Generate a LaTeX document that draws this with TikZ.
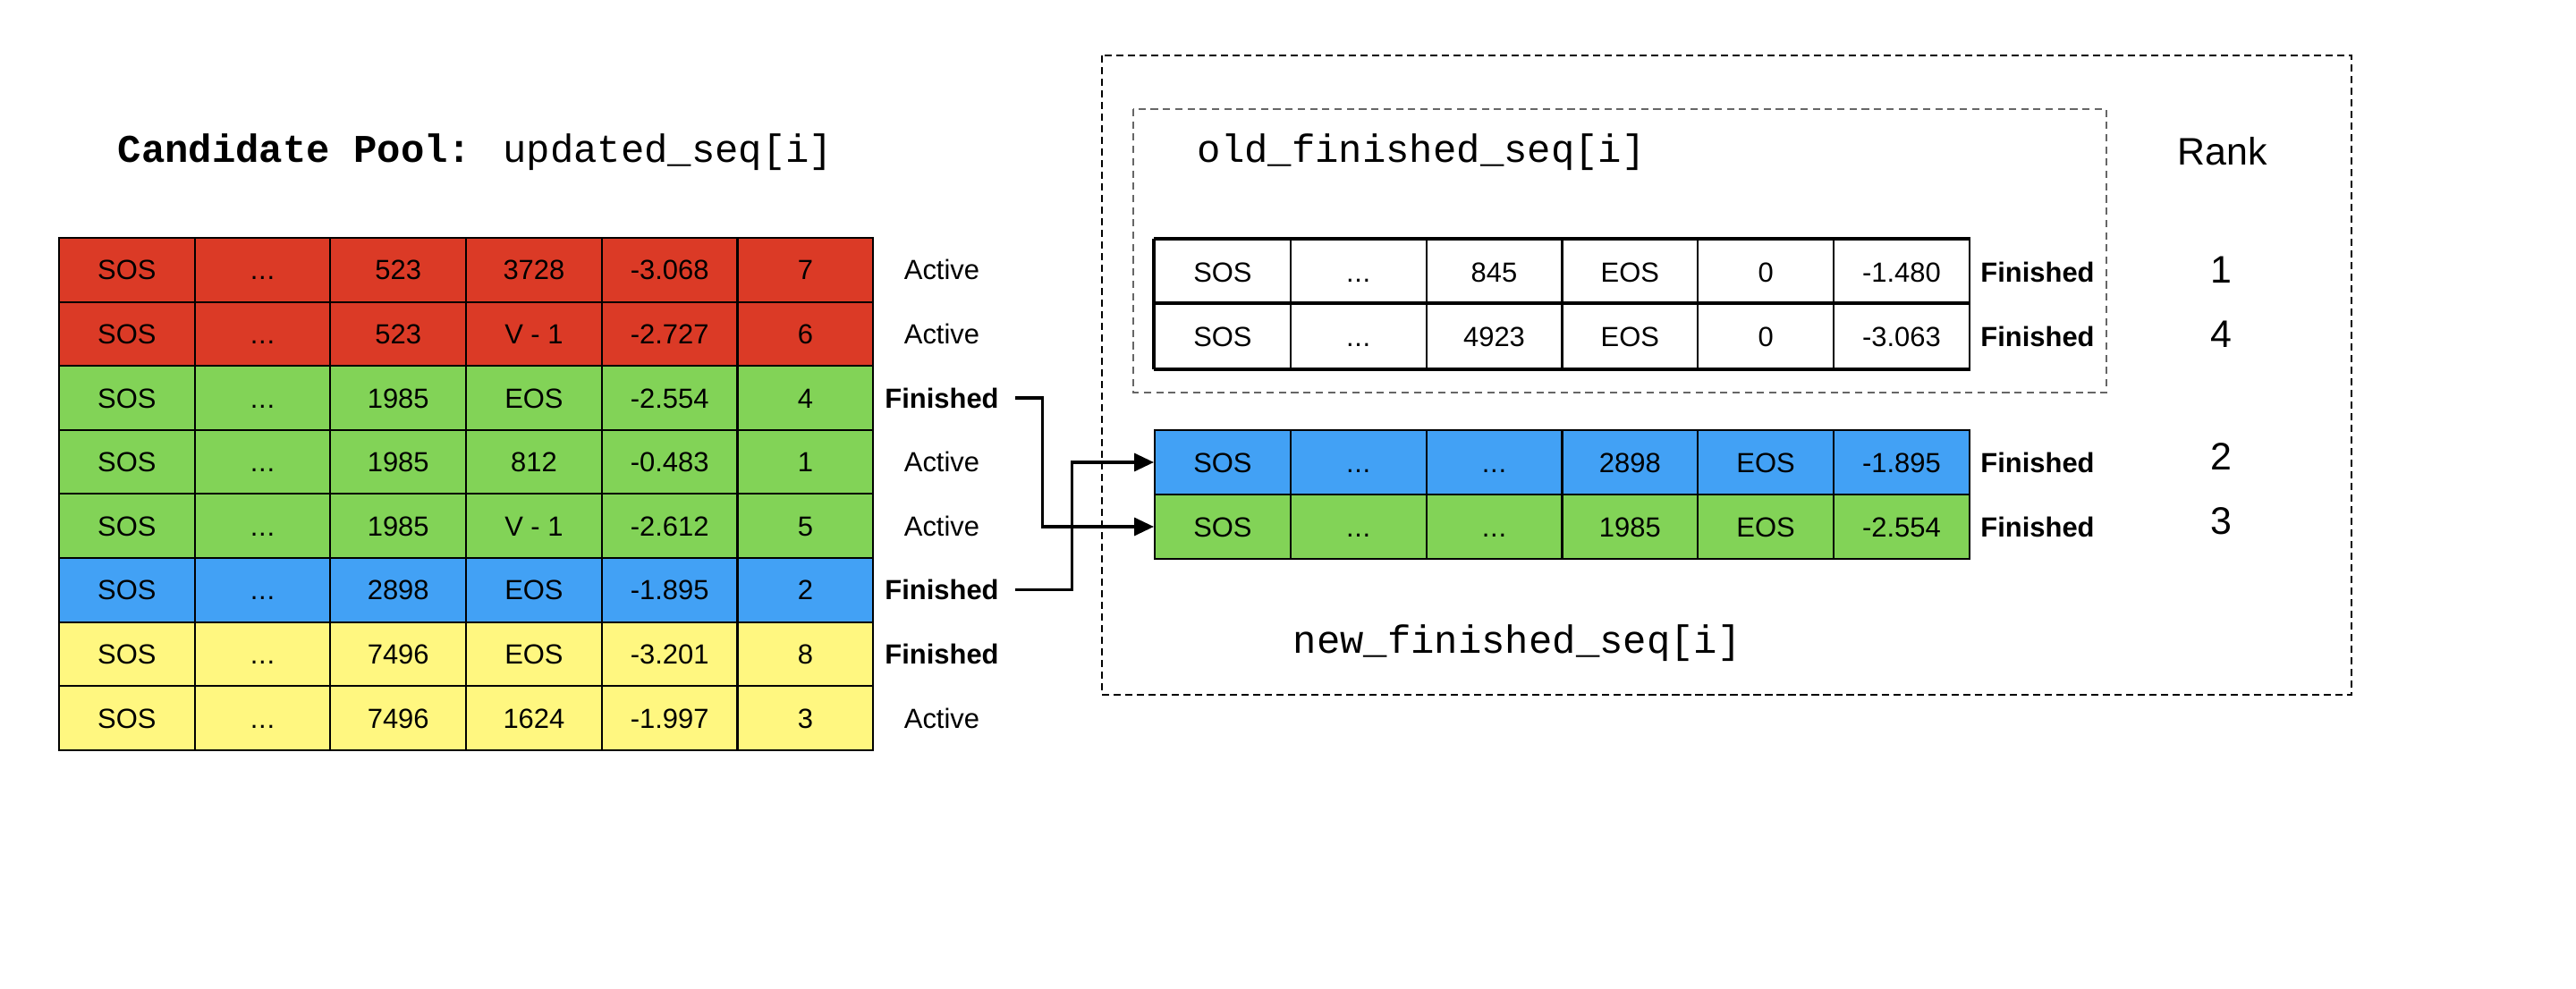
\documentclass[tikz,border=0pt]{standalone}
\usepackage{fontspec}
\setmainfont{Liberation Sans}
\newfontfamily\codefont{Liberation Mono}
\usetikzlibrary{arrows.meta}

\definecolor{poolred}{RGB}{219,58,38}
\definecolor{poolgreen}{RGB}{130,211,87}
\definecolor{poolblue}{RGB}{66,161,245}
\definecolor{poolyellow}{RGB}{255,247,128}

\newcommand{\cellfont}{\fontsize{8.8pt}{10pt}\selectfont}
\newcommand{\rankfont}{\fontsize{12.2pt}{14pt}\selectfont}
\newcommand{\seqfont}{\fontsize{12.5pt}{14pt}\selectfont\codefont}
\newcommand{\skipped}{.\kern0.2pt.\kern0.2pt.}

\tikzset{
  cell/.style={draw,line width=0.6pt,minimum width=1.517cm,minimum height=0.716cm,
    inner sep=0pt,text height=6.3pt,text depth=0pt,font=\cellfont},
  status/.style={inner sep=0pt,text height=6.3pt,text depth=0pt,font=\cellfont},
  link/.style={line width=0.95pt,-{Triangle[length=0.22cm,width=0.2cm]}},
  outerbox/.style={line width=0.4pt,dash pattern=on 2.3pt off 1.4pt},
  innerbox/.style={line width=0.4pt,gray!80!black,dash pattern=on 2.3pt off 1.6pt},
}

\begin{document}
\begin{tikzpicture}[line join=miter]
  \useasboundingbox (0,0) rectangle (28.8,-11.06);
  \node[anchor=base west,inner sep=0pt,font=\seqfont] (pool) at (1.31,-1.82)
    {\textbf{Candidate Pool:} updated\_seq[i]};
  % candidate pool rows
  \foreach \r/\fillc/\tok/\nxt/\score/\rk/\st in {
      0/poolred/523/3728/-3.068/7/Active,
      1/poolred/523/V - 1/-2.727/6/Active,
      2/poolgreen/1985/EOS/-2.554/4/\textbf{Finished},
      3/poolgreen/1985/812/-0.483/1/Active,
      4/poolgreen/1985/V - 1/-2.612/5/Active,
      5/poolblue/2898/EOS/-1.895/2/\textbf{Finished},
      6/poolyellow/7496/EOS/-3.201/8/\textbf{Finished},
      7/poolyellow/7496/1624/-1.997/3/Active}{
    \foreach \c/\txt in {0/SOS,1/\skipped,2/\tok,3/\nxt,4/\score,5/\rk}
      \node[cell,fill=\fillc] (p\r-\c) at ({1.4185+1.517*\c},{-3.018-0.716*\r}) {\txt};
    \node[status] (s\r) at (10.53,{-3.018-0.716*\r}) {\st};
  }
  % old finished
  \draw[outerbox] (12.32,-0.62) rectangle (26.29,-7.77);
  \draw[innerbox] (12.67,-1.22) rectangle (23.55,-4.39);
  \node[anchor=base west,inner sep=0pt,font=\seqfont] (old) at (13.38,-1.82)
    {old\_finished\_seq[i]};
  \node[anchor=base,inner sep=0pt,font=\rankfont] (rank) at (24.85,-1.85) {Rank};
  \foreach \r/\y/\tok/\score/\rk in {0/-3.04/845/-1.480/1,1/-3.76/4923/-3.063/4}{
    \foreach \c/\txt in {0/SOS,1/\skipped,2/\tok,3/EOS,4/0,5/\score}
      \node[cell] (o\r-\c) at ({13.669+1.518*\c},\y) {\txt};
    \node[status,font=\cellfont\bfseries] (of\r) at (22.78,\y) {Finished};
    \node[inner sep=0pt,font=\rankfont] (ork\r) at (24.83,\y+0.02) {\rk};
  }
  \draw[line width=1.3pt] (o0-0.north west) -- (o0-5.north east)
    (o1-0.north west) -- (o1-5.north east)
    (o1-0.south west) -- (o1-5.south east)
    (o0-0.north west) -- (o1-0.south west);
  % new finished
  \foreach \r/\y/\fillc/\tok/\score/\rk in {0/-5.17/poolblue/2898/-1.895/2,
      1/-5.89/poolgreen/1985/-2.554/3}{
    \foreach \c/\txt in {0/SOS,1/\skipped,2/\skipped,3/\tok,4/EOS,5/\score}
      \node[cell,fill=\fillc] (n\r-\c) at ({13.669+1.518*\c},\y) {\txt};
    \node[status,font=\cellfont\bfseries] (nf\r) at (22.78,\y) {Finished};
    \node[inner sep=0pt,font=\rankfont] (nrk\r) at (24.83,\y+0.06) {\rk};
  }
  \node[anchor=base west,inner sep=0pt,font=\seqfont] (new) at (14.45,-7.31)
    {new\_finished\_seq[i]};
  \draw[link] ([xshift=0.18cm]s2.east) -- ++(0.30,0) |- (n1-0.west);
  \draw[link] ([xshift=0.18cm]s5.east) -- ++(0.63,0) |- (n0-0.west);
\end{tikzpicture}
\end{document}
